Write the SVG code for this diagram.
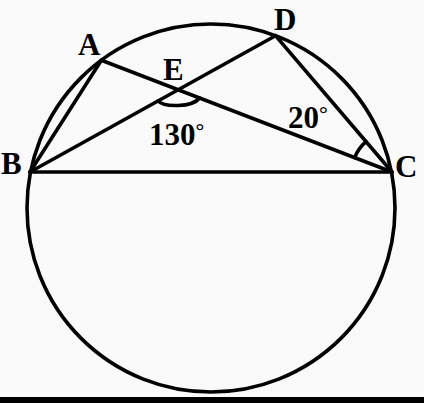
<svg xmlns="http://www.w3.org/2000/svg" width="424" height="403" viewBox="0 0 424 403">
<style>
.ln{stroke:#000;stroke-width:3.6;fill:none;stroke-linecap:round;stroke-linejoin:round}
.lb{font-family:"Liberation Serif","Times New Roman",serif;font-weight:bold;font-size:31px;fill:#000}
.dg{font-size:22px}
</style>
<rect x="0" y="0" width="424" height="403" fill="#fafafa"/>
<rect x="0" y="397" width="424" height="6" fill="#000"/>
<g id="circle">
<circle class="ln" cx="211" cy="208" r="184" stroke-width="3.8"/>
</g>
<g id="connectors">
<line class="ln" x1="30" y1="172" x2="392" y2="172"/>
<line class="ln" x1="30" y1="172" x2="101.4" y2="60.2"/>
<line class="ln" x1="30" y1="172" x2="275.5" y2="35.7"/>
<line class="ln" x1="101.4" y1="60.2" x2="392" y2="172"/>
<line class="ln" x1="275.5" y1="35.7" x2="392" y2="172"/>
<path class="ln" d="M158.1,100.9 C164,107.5 192,107.5 199.7,98"/>
<path class="ln" d="M354.7,157.6 A40,40 0 0 1 366,141.6"/>
</g>
<g id="A"><text class="lb" x="78" y="55">A</text></g>
<g id="B"><text class="lb" x="1" y="174">B</text></g>
<g id="C"><text class="lb" x="395" y="177">C</text></g>
<g id="D"><text class="lb" x="274" y="30">D</text></g>
<g id="E"><text class="lb" x="163" y="80">E</text></g>
<g id="angle130"><text class="lb" x="149" y="145">130<tspan class="dg" dy="-7">°</tspan></text></g>
<g id="angle20"><text class="lb" x="288" y="128">20<tspan class="dg" dy="-7">°</tspan></text></g>
</svg>
